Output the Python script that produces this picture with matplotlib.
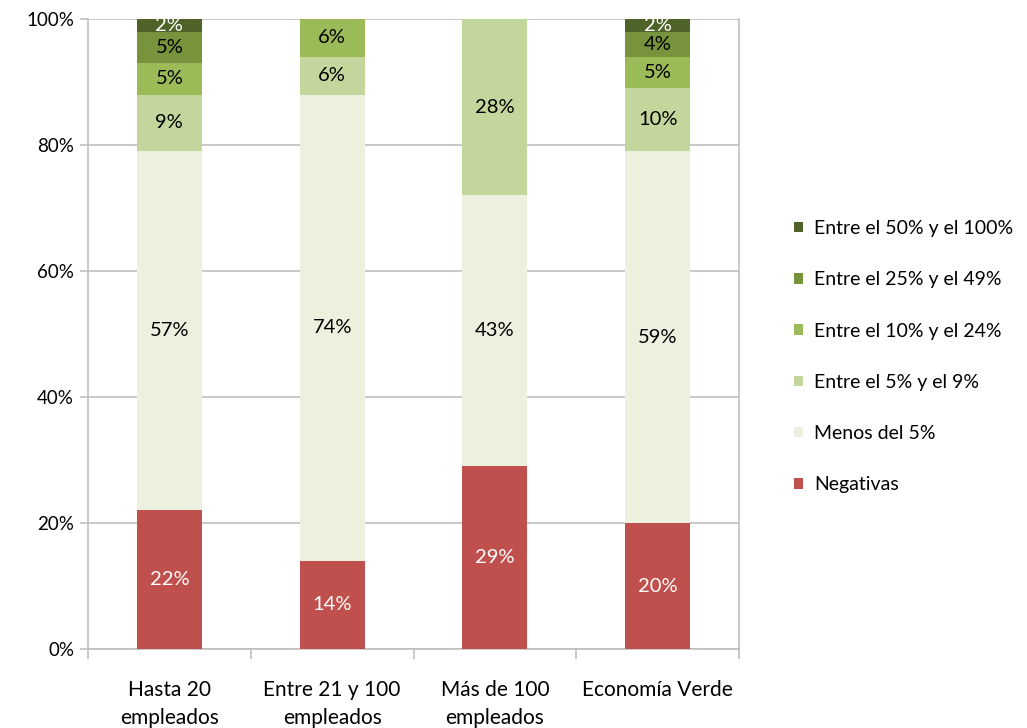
import numpy as np
import matplotlib
matplotlib.use('Agg')
import matplotlib.pyplot as plt
from matplotlib.patches import Patch

plt.rcParams['font.family'] = ['Lato', 'DejaVu Sans']

categories = ['Hasta 20\nempleados', 'Entre 21 y 100\nempleados', 'Más de 100\nempleados', 'Economía Verde']
series_names = ['Negativas', 'Menos del 5%', 'Entre el 5% y el 9%',
                'Entre el 10% y el 24%', 'Entre el 25% y el 49%', 'Entre el 50% y el 100%']
negativas = [22, 14, 29, 20]
menos_5 = [57, 74, 43, 59]
entre_5_9 = [9, 6, 28, 10]
entre_10_24 = [5, 6, 0, 5]
entre_25_49 = [5, 0, 0, 4]
entre_50_100 = [2, 0, 0, 2]
series_values = [negativas, menos_5, entre_5_9, entre_10_24, entre_25_49, entre_50_100]

colors = ['#C0504D', '#EBF1DE', '#C3D69B', '#9BBB59', '#77933C', '#4F6228']
text_colors = ['white', 'black', 'black', 'black', 'black', 'white']

fig = plt.figure(figsize=(10.27, 7.28), dpi=100)
ax = fig.add_axes([88 / 1027, 1 - 649 / 728, (739 - 88) / 1027, (649 - 19) / 728])

x = np.arange(len(categories))
bottom = np.zeros(len(categories))
for vals, col, tcol in zip(series_values, colors, text_colors):
    vals = np.array(vals, dtype=float)
    ax.bar(x, vals, width=0.4, bottom=bottom, color=col, zorder=3)
    for xi, b, v in zip(x, bottom, vals):
        if v > 0:
            ax.text(xi, b + v / 2, f'{v:.0f}%', ha='center', va='center',
                    fontsize=14.5, color=tcol, zorder=4)
    bottom += vals

ax.set_xlim(-0.5, 3.5)
ax.set_ylim(0, 100)
ax.set_yticks(np.arange(0, 101, 20))
ax.set_yticklabels([f'{v}%' for v in range(0, 101, 20)], fontsize=13.5)
ax.yaxis.grid(True, color='#BFBFBF', linewidth=1.2, zorder=0)
ax.set_xticks(x)
ax.set_xticklabels(categories, fontsize=15, linespacing=1.55)
ax.set_xticks(np.arange(-0.5, 3.6, 1), minor=True)
ax.tick_params(axis='x', which='major', length=0, pad=22)
ax.tick_params(axis='x', which='minor', length=7, color='#BFBFBF', width=1.2)
ax.tick_params(axis='y', length=6, color='#BFBFBF', width=1.2, pad=4)
for side in ['left', 'bottom', 'right']:
    ax.spines[side].set_color('#BFBFBF')
    ax.spines[side].set_linewidth(1.2)
ax.spines['top'].set_visible(False)

handles = [Patch(facecolor=c, edgecolor='none') for c in colors]
fig.legend(handles[::-1], series_names[::-1], loc='center left',
           bbox_to_anchor=(0.756, 0.51), frameon=False, fontsize=14,
           handlelength=0.45, handleheight=0.45, handletextpad=0.6, labelspacing=1.76)

fig.savefig('out.png', dpi=100)
